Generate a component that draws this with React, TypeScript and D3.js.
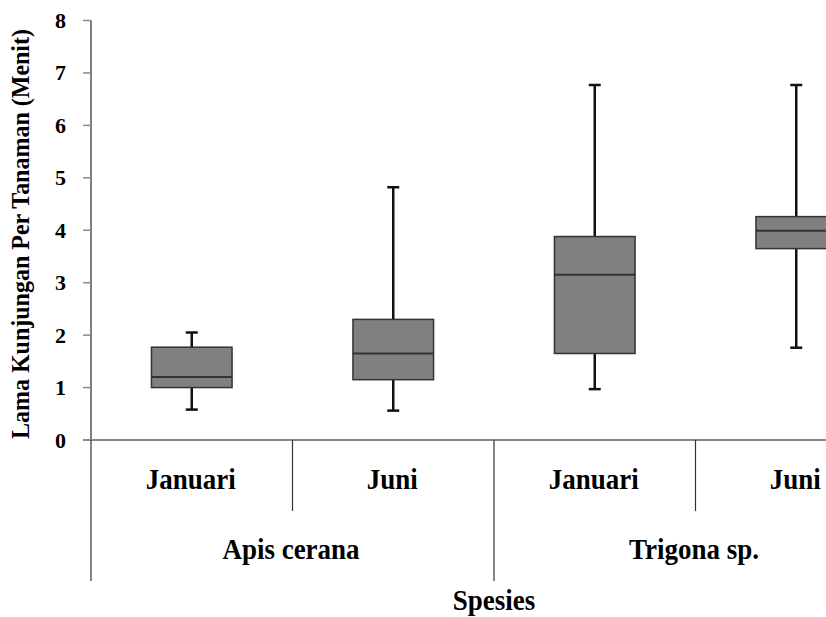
import * as d3 from 'd3';

// box plot values (minutes)
const species = ['Apis cerana', 'Trigona sp.'];
const months = ['Januari', 'Juni'];
const categories = ['Apis cerana|Januari', 'Apis cerana|Juni', 'Trigona sp.|Januari', 'Trigona sp.|Juni'];
const whiskerLow = [0.58, 0.56, 0.97, 1.76];
const q1 = [1.0, 1.15, 1.65, 3.65];
const median = [1.2, 1.65, 3.15, 3.99];
const q3 = [1.77, 2.3, 3.88, 4.26];
const whiskerHigh = [2.05, 4.82, 6.77, 6.77];
const yTicks = [0, 1, 2, 3, 4, 5, 6, 7, 8];

const yTitle = 'Lama Kunjungan Per Tanaman (Menit)';
const xTitle = 'Spesies';

export default function App() {
    const width = 826;
    const height = 617;
    const axisX = 91;
    const bandW = 201.5;
    const font = 'Liberation Serif';

    const x = d3.scaleBand<string>()
        .domain(categories)
        .range([axisX, axisX + bandW * categories.length])
        .padding(0);

    const y = d3.scaleLinear().domain([0, 8]).range([440, 20.5]);

    const boxW = x.bandwidth() * 0.4;
    const capW = 12;
    const baseY = y(0);

    // group extents for the two-level axis
    const groupX = d3.scaleBand<string>()
        .domain(species)
        .range([axisX, axisX + bandW * categories.length])
        .padding(0);

    // labels in the original look slightly stretched vertically
    const label = (key: string, tx: number, ty: number, txt: string) => (
        <text key={key} transform={`translate(${tx}, ${ty}) scale(1, 1.1)`} textAnchor="middle" fontFamily={font} fontWeight="bold" fontSize={27} fill="#000">{txt}</text>
    );

    return (
        <svg width={width} height={height} style={{ position: 'absolute', left: 0, top: 0, background: '#fff' }}>
            {/* y axis */}
            <line x1={axisX} x2={axisX} y1={y(8)} y2={baseY} stroke="#555" strokeWidth={1.5} />
            {yTicks.map((t) => (
                <g key={t}>
                    <line x1={83} x2={axisX} y1={y(t)} y2={y(t)} stroke="#888" strokeWidth={1.5} />
                    <text x={66} y={y(t) + 7.5} textAnchor="end" fontFamily={font} fontWeight="bold" fontSize={22} fill="#000">{t}</text>
                </g>
            ))}
            <text
                transform={`translate(29, ${234}) rotate(-90) scale(1, 1.1)`}
                textAnchor="middle"
                fontFamily={font}
                fontWeight="bold"
                fontSize={23}
                textLength={410}
                lengthAdjust="spacingAndGlyphs"
                fill="#000"
            >{yTitle}</text>

            {/* boxes */}
            {categories.map((c, i) => {
                const cx = (x(c) as number) + x.bandwidth() / 2;
                return (
                    <g key={c}>
                        <line x1={cx} x2={cx} y1={y(whiskerHigh[i])} y2={y(q3[i])} stroke="#111" strokeWidth={2.5} />
                        <line x1={cx} x2={cx} y1={y(q1[i])} y2={y(whiskerLow[i])} stroke="#111" strokeWidth={2.5} />
                        <line x1={cx - capW / 2} x2={cx + capW / 2} y1={y(whiskerHigh[i])} y2={y(whiskerHigh[i])} stroke="#111" strokeWidth={2.5} />
                        <line x1={cx - capW / 2} x2={cx + capW / 2} y1={y(whiskerLow[i])} y2={y(whiskerLow[i])} stroke="#111" strokeWidth={2.5} />
                        <rect x={cx - boxW / 2} y={y(q3[i])} width={boxW} height={y(q1[i]) - y(q3[i])} fill="#808080" stroke="#333" strokeWidth={1.5} />
                        <line x1={cx - boxW / 2} x2={cx + boxW / 2} y1={y(median[i])} y2={y(median[i])} stroke="#333" strokeWidth={2} />
                    </g>
                );
            })}

            {/* x axis */}
            <line x1={83} x2={width} y1={baseY} y2={baseY} stroke="#888" strokeWidth={2} />
            {categories.map((c, i) => {
                const left = x(c) as number;
                const isGroupStart = i % months.length === 0;
                return (
                    <g key={c}>
                        <line x1={left} x2={left} y1={baseY} y2={isGroupStart ? 581 : 511} stroke="#333" strokeWidth={1.2} />
                        {label('m' + i, left + x.bandwidth() / 2 - 1, 489, months[i % months.length])}
                    </g>
                );
            })}
            {species.map((s) => label(s, (groupX(s) as number) + 200, 559, s))}
            {label('title', 494, 610, xTitle)}
        </svg>
    );
}
